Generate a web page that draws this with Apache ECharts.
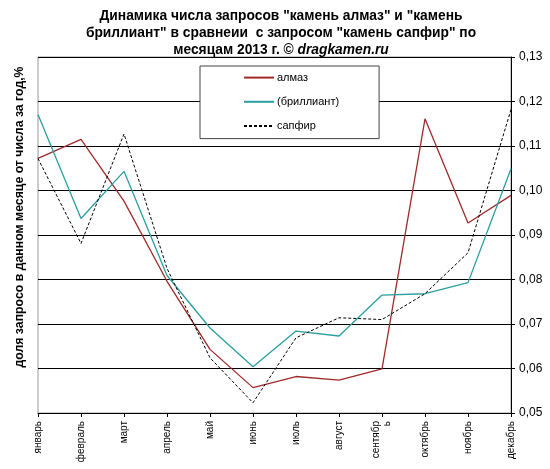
<!DOCTYPE html>
<html><head><meta charset="utf-8">
<script src="https://cdn.jsdelivr.net/npm/echarts@6/dist/echarts.min.js"></script>
<style>html,body{margin:0;padding:0;background:#fff}#c{width:550px;height:469px}</style>
</head><body><div id="c"></div>
<script>
var months = ['январь','февраль','март','апрель','май','июнь','июль','август','сентябрь','октябрь','ноябрь','декабрь'];
var almaz = [0.1072,0.1115,0.0976,0.0796,0.0643,0.0557,0.0582,0.0574,0.0599,0.1161,0.0927,0.0989];
var brilliant = [0.1171,0.0937,0.1043,0.0809,0.0691,0.0604,0.0684,0.0673,0.0765,0.0768,0.0793,0.1049];
var sapfir = [0.1072,0.0881,0.1127,0.0825,0.0624,0.0523,0.0669,0.0714,0.0710,0.0768,0.0860,0.1182];
var seriesNames = ['алмаз','(бриллиант)','сапфир'];
var yMin = 0.05, yMax = 0.13, yStep = 0.01;

var chart = echarts.init(document.getElementById('c'));
var F = 'Liberation Sans, Arial, sans-serif';
chart.setOption({
  animation: false,
  title: {
    text: 'Динамика числа запросов "камень алмаз" и "камень\nбриллиант" в сравнеии  с запросом "камень сапфир" по\nмесяцам 2013 г. © {i|dragkamen.ru}',
    left: 276, textAlign: 'center', top: 3,
    textStyle: {
      fontFamily: F, fontSize: 13.8, fontWeight: 'bold', color: '#000', lineHeight: 16.7,
      rich: { i: { fontFamily: F, fontSize: 13.8, fontWeight: 'bold', fontStyle: 'italic', color: '#000' } }
    }
  },
  legend: {
    orient: 'vertical', left: 200, top: 66,
    padding: [6, 40, 7, 43], itemGap: 13, itemWidth: 30, itemHeight: 14,
    backgroundColor: '#fff', borderColor: '#444', borderWidth: 1,
    itemStyle: { color: 'rgba(0,0,0,0)', borderWidth: 0, opacity: 0 },
    textStyle: { fontFamily: F, fontSize: 11, color: '#000', padding: [0, 0, 0, -2] },
    data: seriesNames
  },
  grid: { left: 38, right: 39, top: 57, bottom: 56, show: true, borderColor: '#999', borderWidth: 1, backgroundColor: 'transparent' },
  xAxis: {
    type: 'category', data: months, boundaryGap: false,
    axisLine: { lineStyle: { color: '#000', width: 1 } },
    axisTick: { show: true, length: 4, lineStyle: { color: '#000' }, alignWithLabel: true },
    axisLabel: {
      rotate: 90, interval: 0, margin: 8, fontFamily: F, fontSize: 10, color: '#000', lineHeight: 11,
      formatter: function (v) { return v === 'сентябрь' ? 'сентябр\nь' : v; }
    },
    splitLine: { show: false }
  },
  yAxis: {
    type: 'value', position: 'right', min: yMin, max: yMax, interval: yStep,
    axisLine: { show: true, lineStyle: { color: '#000', width: 1 } },
    axisTick: { show: true, length: 4, lineStyle: { color: '#000' } },
    axisLabel: { margin: 8, fontFamily: F, fontSize: 12, color: '#000',
      formatter: function (v) { return v.toFixed(2).replace('.', ','); } },
    splitLine: { show: true, lineStyle: { color: '#000', width: 1 } }
  },
  graphic: [{
    type: 'text', x: 20, y: 217, rotation: Math.PI / 2,
    style: { text: 'доля запросо в данном месяце от числа за год,%', fontFamily: F, fontSize: 12.3, fontWeight: 'bold', fill: '#000', align: 'center', verticalAlign: 'middle' }
  }],
  series: [
    { name: seriesNames[0], type: 'line', data: almaz, symbol: 'none', lineStyle: { color: '#A02A2A', width: 1.3 }, itemStyle: { color: '#A02A2A' } },
    { name: seriesNames[1], type: 'line', data: brilliant, symbol: 'none', lineStyle: { color: '#2A9F9F', width: 1.3 }, itemStyle: { color: '#2A9F9F' } },
    { name: seriesNames[2], type: 'line', data: sapfir, symbol: 'none', lineStyle: { color: '#000', width: 1, type: [3, 2] }, itemStyle: { color: '#000' } }
  ]
});
</script></body></html>
